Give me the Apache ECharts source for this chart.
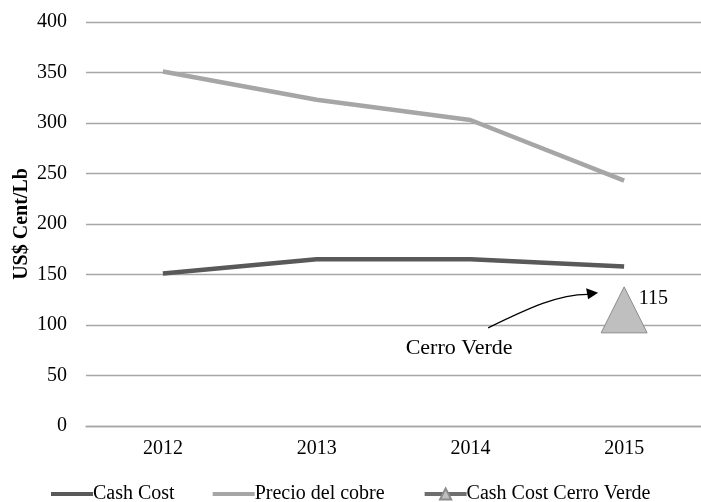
<!DOCTYPE html>
<html>
<head>
<meta charset="utf-8">
<script src="https://cdn.jsdelivr.net/npm/echarts@6/dist/echarts.min.js"></script>
<style>
  html, body { margin: 0; padding: 0; background: #fff; }
  #chart { width: 701px; height: 502px; }
</style>
</head>
<body>
<div id="chart"></div>
<script>
var years = ['2012', '2013', '2014', '2015'];
var cashCost = [151, 165, 165, 158];
var precioCobre = [351, 323, 303, 243];
var cashCostCerroVerde = [null, null, null, 115];
var yTicks = { min: 0, max: 400, interval: 50 };

var font = 'Liberation Serif';
var myChart = echarts.init(document.getElementById('chart'));

// thick flat line used as legend icon for the plain line series
var lineIcon = 'path://M0,0 H42 V4 H0 Z';

var option = {
  animation: false,
  textStyle: { fontFamily: font },
  grid: { left: 86, top: 22, width: 623, height: 404 },
  legend: {
    left: 46,
    top: 479,
    itemWidth: 42,
    itemHeight: 14,
    itemGap: 38,
    textStyle: { fontFamily: font, fontSize: 20, color: '#000', padding: [0, 0, 0, -5] },
    lineStyle: { width: 4 },
    data: [
      { name: 'Cash Cost', icon: lineIcon },
      { name: 'Precio del cobre', icon: lineIcon },
      { name: 'Cash Cost Cerro Verde' }
    ]
  },
  xAxis: {
    type: 'category',
    data: years,
    axisTick: { show: false },
    axisLine: { lineStyle: { color: '#a6a6a6', width: 1.3 } },
    axisLabel: { color: '#000', fontSize: 20, fontFamily: font, margin: 13 }
  },
  yAxis: {
    type: 'value',
    min: yTicks.min,
    max: yTicks.max,
    interval: yTicks.interval,
    name: 'US$ Cent/Lb',
    nameLocation: 'middle',
    nameGap: 54,
    nameMoveOverlap: false,
    nameTextStyle: { fontFamily: font, fontSize: 20, fontWeight: 'bold', color: '#000' },
    axisLine: { show: false },
    axisTick: { show: false },
    axisLabel: { color: '#000', fontSize: 20, fontFamily: font, margin: 19 },
    splitLine: { lineStyle: { color: '#a6a6a6', width: 1.3 } }
  },
  series: [
    {
      name: 'Cash Cost',
      type: 'line',
      data: cashCost,
      symbol: 'none',
      lineStyle: { color: '#595959', width: 4.5 },
      itemStyle: { color: '#595959' }
    },
    {
      name: 'Precio del cobre',
      type: 'line',
      data: precioCobre,
      symbol: 'none',
      lineStyle: { color: '#a6a6a6', width: 4.5 },
      itemStyle: { color: '#a6a6a6' }
    },
    {
      name: 'Cash Cost Cerro Verde',
      type: 'line',
      data: cashCostCerroVerde,
      symbol: 'triangle',
      symbolSize: [46, 46],
      lineStyle: { color: '#6e6e6e', width: 4.5 },
      itemStyle: { color: '#bfbfbf', borderColor: '#8c8c8c', borderWidth: 1 },
      label: {
        show: true,
        position: [38, 12],
        align: 'left',
        verticalAlign: 'middle',
        fontFamily: font,
        fontSize: 20,
        color: '#000'
      }
    }
  ]
};

option && myChart.setOption(option);

// annotation "Cerro Verde" + curved arrow, placed relative to the 2015 point
var p = myChart.convertToPixel({ xAxisIndex: 0, yAxisIndex: 0 }, ['2015', cashCostCerroVerde[3]]);
var tip = [p[0] - 26, p[1] - 17];
myChart.setOption({
  graphic: [
    {
      type: 'text',
      x: p[0] - 165,
      y: p[1] + 38,
      style: {
        text: 'Cerro Verde',
        font: '22px "Liberation Serif"',
        fill: '#000',
        align: 'center',
        verticalAlign: 'middle'
      }
    },
    {
      type: 'bezierCurve',
      shape: {
        x1: p[0] - 136, y1: p[1] + 18,
        cpx1: p[0] - 95, cpy1: p[1] - 2,
        cpx2: p[0] - 65, cpy2: p[1] - 16,
        x2: tip[0] - 9, y2: tip[1] + 1.5
      },
      style: { stroke: '#000', lineWidth: 1.2, fill: null }
    },
    {
      type: 'polygon',
      shape: {
        points: [
          [tip[0], tip[1]],
          [tip[0] - 12, tip[1] - 4.5],
          [tip[0] - 10, tip[1] + 6.5]
        ]
      },
      style: { fill: '#000' }
    }
  ]
});
</script>
</body>
</html>
